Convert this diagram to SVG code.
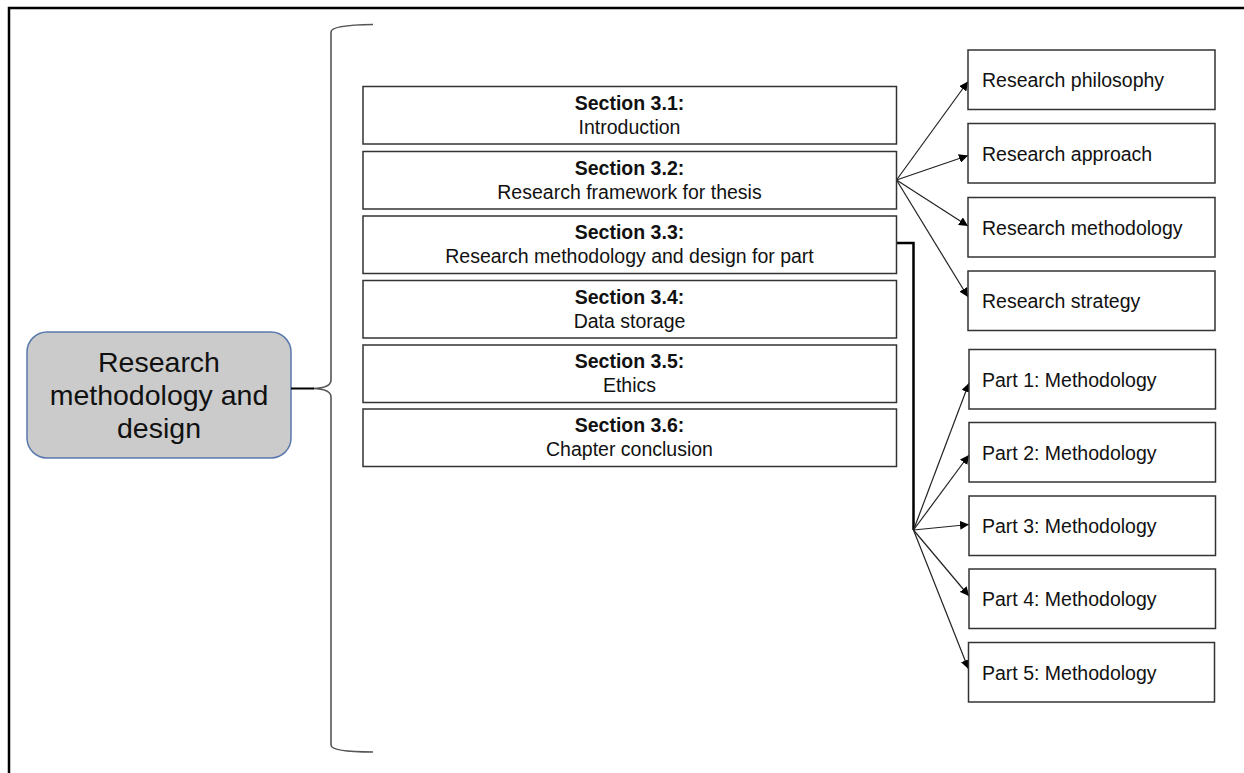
<svg xmlns="http://www.w3.org/2000/svg" width="1244" height="773" viewBox="0 0 1244 773">
  <style>
    .frame { fill: none; stroke: #000; stroke-width: 2.5; }
    .box { fill: #fff; stroke: #333; stroke-width: 1.5; }
    .txt { font-family: "Liberation Sans", Arial, sans-serif; font-size: 19.5px; fill: #111; }
    .ctr { text-anchor: middle; }
    .b { font-weight: bold; }
    .root-txt { font-family: "Liberation Sans", Arial, sans-serif; font-size: 28.5px; fill: #111; text-anchor: middle; }
    .link { fill: none; stroke: #222; stroke-width: 1.2; marker-end: url(#arrow); }
    .elbow { fill: none; stroke: #000; stroke-width: 2.5; }
    .brace { fill: none; stroke: #555; stroke-width: 1.6; }
  </style>
  <defs>
    <marker id="arrow" viewBox="0 0 10 10" refX="10" refY="5" markerWidth="9" markerHeight="9" markerUnits="userSpaceOnUse" orient="auto">
      <path d="M0,0 L10,5 L0,10 z" fill="#000"/>
    </marker>
  </defs>

  <rect width="1244" height="773" fill="#fff"/>
  <!-- page frame (top and left edges) -->
  <path class="frame" d="M9,773 L9,8 L1244,8"/>

  <!-- root node -->
  <g id="root">
    <rect x="27" y="332" width="264" height="126" rx="20" fill="#cbcbcb" stroke="#5a78ad" stroke-width="1.5"/>
    <text class="root-txt" x="159" y="372">Research</text>
    <text class="root-txt" x="159" y="405">methodology and</text>
    <text class="root-txt" x="159" y="438">design</text>
  </g>

  <!-- connectors -->
  <g id="connectors">
    <path class="brace" d="M373,24.5 Q331,25 331,32 L331,380 Q331,388 313,388.5 Q331,389 331,397 L331,745 Q331,752 373,752"/>
    <line x1="291" y1="388.5" x2="314" y2="388.5" stroke="#000" stroke-width="2"/>
    <!-- framework fan -->
    <line class="link" x1="896.5" y1="180" x2="968" y2="81.5"/>
    <line class="link" x1="896.5" y1="180" x2="968" y2="155.5"/>
    <line class="link" x1="896.5" y1="180" x2="968" y2="226"/>
    <line class="link" x1="896.5" y1="180" x2="968" y2="297"/>
    <!-- section 3.3 elbow -->
    <path class="elbow" d="M896.5,243 L913.5,243 L913.5,530"/>
    <!-- parts fan -->
    <line class="link" x1="913.5" y1="530" x2="969" y2="383"/>
    <line class="link" x1="913.5" y1="530" x2="969" y2="455"/>
    <line class="link" x1="913.5" y1="530" x2="969" y2="524.5"/>
    <line class="link" x1="913.5" y1="530" x2="969" y2="596"/>
    <line class="link" x1="913.5" y1="530" x2="968.5" y2="669"/>
  </g>

  <!-- section boxes -->
  <g id="s31">
    <rect class="box" x="363" y="86.5" width="533.5" height="57.5"/>
    <text class="txt ctr b" x="629.5" y="109.5">Section 3.1:</text>
    <text class="txt ctr" x="629.5" y="133.5">Introduction</text>
  </g>
  <g id="s32">
    <rect class="box" x="363" y="151.5" width="533.5" height="57.5"/>
    <text class="txt ctr b" x="629.5" y="174.5">Section 3.2:</text>
    <text class="txt ctr" x="629.5" y="198.5">Research framework for thesis</text>
  </g>
  <g id="s33">
    <rect class="box" x="363" y="216" width="533.5" height="57.5"/>
    <text class="txt ctr b" x="629.5" y="239">Section 3.3:</text>
    <text class="txt ctr" x="629.5" y="263">Research methodology and design for part</text>
  </g>
  <g id="s34">
    <rect class="box" x="363" y="280.5" width="533.5" height="57.5"/>
    <text class="txt ctr b" x="629.5" y="303.5">Section 3.4:</text>
    <text class="txt ctr" x="629.5" y="327.5">Data storage</text>
  </g>
  <g id="s35">
    <rect class="box" x="363" y="345" width="533.5" height="57.5"/>
    <text class="txt ctr b" x="629.5" y="368">Section 3.5:</text>
    <text class="txt ctr" x="629.5" y="392">Ethics</text>
  </g>
  <g id="s36">
    <rect class="box" x="363" y="409" width="533.5" height="57.5"/>
    <text class="txt ctr b" x="629.5" y="432">Section 3.6:</text>
    <text class="txt ctr" x="629.5" y="456">Chapter conclusion</text>
  </g>

  <!-- framework boxes -->
  <g id="philosophy">
    <rect class="box" x="968" y="50" width="247" height="59.5"/>
    <text class="txt" x="982" y="87">Research philosophy</text>
  </g>
  <g id="approach">
    <rect class="box" x="968" y="123.5" width="247" height="59.5"/>
    <text class="txt" x="982" y="160.5">Research approach</text>
  </g>
  <g id="methodology">
    <rect class="box" x="968" y="197.5" width="247" height="59.5"/>
    <text class="txt" x="982" y="234.5">Research methodology</text>
  </g>
  <g id="strategy">
    <rect class="box" x="968" y="271" width="247" height="59.5"/>
    <text class="txt" x="982" y="308">Research strategy</text>
  </g>

  <!-- part boxes -->
  <g id="part1">
    <rect class="box" x="969" y="349.5" width="246.5" height="59.5"/>
    <text class="txt" x="982" y="386.5">Part 1: Methodology</text>
  </g>
  <g id="part2">
    <rect class="box" x="969" y="422.5" width="246.5" height="59.5"/>
    <text class="txt" x="982" y="459.5">Part 2: Methodology</text>
  </g>
  <g id="part3">
    <rect class="box" x="969" y="496" width="246.5" height="59.5"/>
    <text class="txt" x="982" y="533">Part 3: Methodology</text>
  </g>
  <g id="part4">
    <rect class="box" x="969" y="569" width="246.5" height="59.5"/>
    <text class="txt" x="982" y="606">Part 4: Methodology</text>
  </g>
  <g id="part5">
    <rect class="box" x="968.5" y="642.5" width="246" height="59.5"/>
    <text class="txt" x="982" y="679.5">Part 5: Methodology</text>
  </g>
</svg>
